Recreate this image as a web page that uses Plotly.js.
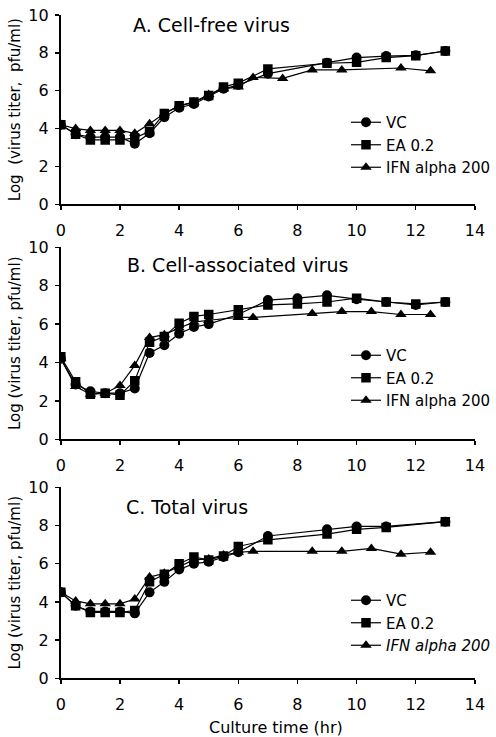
<!DOCTYPE html>
<html>
<head>
<meta charset="utf-8">
<script src="https://cdn.plot.ly/plotly-3.0.1.min.js"></script>
<style>html,body{margin:0;padding:0;background:#fff;}#chart{width:496px;height:737px;}</style>
</head>
<body>
<div id="chart"></div>
<script>
// ---- Data ----
const seriesNames = ["VC", "EA 0.2", "IFN alpha 200"];
const panelTitles = ["A. Cell-free virus", "B. Cell-associated virus", "C. Total virus"];
const yTitles = ["Log\u00a0 (virus titer,\u00a0 pfu/ml)", "Log (virus titer, pfu/ml)", "Log (virus titer, pfu/ml)"];
const xTitle = "Culture time (hr)";

// Panel A: cell-free virus
const xA_vc  = [0,0.5,1,1.5,2,2.5,3,3.5,4,4.5,5,5.5,6,7,9,10,11,12,13];
const yA_vc  = [4.2,3.7,3.55,3.55,3.55,3.2,3.75,4.6,5.1,5.3,5.7,6.1,6.3,6.9,7.48,7.75,7.83,7.87,8.1];
const xA_ea  = [0,0.5,1,1.5,2,2.5,3,3.5,4,4.5,5,5.5,6,7,9,10,11,12,13];
const yA_ea  = [4.2,3.7,3.4,3.4,3.4,3.5,3.85,4.8,5.2,5.4,5.75,6.2,6.4,7.15,7.45,7.5,7.75,7.85,8.1];
const xA_ifn = [0,0.5,1,1.5,2,2.5,3,3.5,4,4.5,5,5.5,6,6.5,7.5,8.5,9.5,11.5,12.5];
const yA_ifn = [4.2,4.0,3.9,3.9,3.9,3.75,4.25,4.8,5.2,5.4,5.8,6.1,6.2,6.7,6.65,7.1,7.1,7.2,7.05];

// Panel B: cell-associated virus
const xB_vc  = [0,0.5,1,1.5,2,2.5,3,3.5,4,4.5,5,6,7,8,9,10,11,12,13];
const yB_vc  = [4.2,2.85,2.5,2.4,2.4,2.65,4.5,4.9,5.5,5.85,6.0,6.5,7.25,7.35,7.5,7.3,7.15,7.0,7.15];
const xB_ea  = [0,0.5,1,1.5,2,2.5,3,3.5,4,4.5,5,6,7,8,9,10,11,12,13];
const yB_ea  = [4.3,3.0,2.35,2.4,2.3,3.05,5.05,5.35,6.05,6.4,6.5,6.75,7.0,7.05,7.15,7.35,7.15,7.05,7.15];
const xB_ifn = [0,0.5,1,1.5,2,2.5,3,3.5,4,4.5,5,6,6.5,8.5,9.5,10.5,11.5,12.5];
const yB_ifn = [4.2,2.75,2.35,2.4,2.8,3.85,5.3,5.45,5.8,6.1,6.2,6.35,6.35,6.55,6.65,6.65,6.5,6.5];

// Panel C: total virus
const xC_vc  = [0,0.5,1,1.5,2,2.5,3,3.5,4,4.5,5,5.5,6,7,9,10,11,13];
const yC_vc  = [4.5,3.8,3.5,3.5,3.5,3.4,4.5,5.05,5.7,6.0,6.1,6.35,6.6,7.45,7.8,7.95,7.95,8.2];
const xC_ea  = [0,0.5,1,1.5,2,2.5,3,3.5,4,4.5,5,5.5,6,7,9,10,11,13];
const yC_ea  = [4.5,3.8,3.45,3.45,3.45,3.55,5.05,5.45,6.0,6.35,6.2,6.4,6.9,7.25,7.55,7.8,7.9,8.2];
const xC_ifn = [0,0.5,1,1.5,2,2.5,3,3.5,4,4.5,5,5.5,6,6.5,8.5,9.5,10.5,11.5,12.5];
const yC_ifn = [4.5,4.05,3.9,3.9,3.9,4.15,5.3,5.5,5.85,6.2,6.25,6.45,6.6,6.65,6.65,6.65,6.8,6.5,6.6];

const xTickVals = [0,2,4,6,8,10,12,14];
const yTickVals = [0,2,4,6,8,10];

// ---- Build ----
const FONT = "DejaVu Sans, Arial, sans-serif";
const symbols = ["circle", "square", "triangle-up"];
const markerSizes = [10, 9.5, 10];
const panels = [
  {x:[xA_vc,xA_ea,xA_ifn], y:[yA_vc,yA_ea,yA_ifn]},
  {x:[xB_vc,xB_ea,xB_ifn], y:[yB_vc,yB_ea,yB_ifn]},
  {x:[xC_vc,xC_ea,xC_ifn], y:[yC_vc,yC_ea,yC_ifn]}
];
const legendIds = ["legend", "legend2", "legend3"];
const traces = [];
panels.forEach((p, pi) => {
  for (let s = 0; s < 3; s++) {
    let nm = seriesNames[s];
    if (pi === 2 && s === 2) nm = "<i>" + nm + "</i>";
    traces.push({
      type: "scatter", mode: "lines+markers",
      x: p.x[s], y: p.y[s], name: nm,
      xaxis: pi === 0 ? "x" : "x" + (pi + 1),
      yaxis: pi === 0 ? "y" : "y" + (pi + 1),
      legend: legendIds[pi],
      line: {color: "#000", width: 1.2},
      marker: {symbol: symbols[s], size: markerSizes[s], color: "#000", line: {width: 0}}
    });
  }
});

const W = 496, H = 737;
const xDom = [61.7 / W, 481.7 / W];
const yPix = [[15, 204.3], [247.3, 439.3], [487.3, 678.3]];
const legendTops = [106, 339, 584];

const layout = {
  width: W, height: H,
  margin: {l: 0, r: 0, t: 0, b: 0},
  paper_bgcolor: "#fff", plot_bgcolor: "#fff",
  font: {family: FONT, size: 16, color: "#000"},
  showlegend: true,
  annotations: [{
    text: xTitle, showarrow: false, xref: "paper", yref: "paper",
    x: 280 / W, y: 1 - 727 / H, xanchor: "center", yanchor: "middle",
    font: {family: FONT, size: 16, color: "#000"}
  }]
};
for (let i = 0; i < 3; i++) {
  const sfx = i === 0 ? "" : String(i + 1);
  const dom = [1 - yPix[i][1] / H, 1 - yPix[i][0] / H];
  layout["xaxis" + sfx] = {
    domain: xDom, anchor: "y" + sfx, range: [0, 14], tickvals: xTickVals,
    showline: true, linecolor: "#000", linewidth: 2, mirror: false,
    ticks: "outside", ticklen: 4, tickwidth: 1.5, tickcolor: "#000",
    showgrid: false, zeroline: false, fixedrange: true,
    tickfont: {family: FONT, size: 16, color: "#000"}, ticklabelstandoff: 6,
    title: {text: ""}
  };
  layout["yaxis" + sfx] = {
    domain: dom, anchor: "x" + sfx, range: [0, 10], tickvals: yTickVals,
    showline: true, linecolor: "#000", linewidth: 2, mirror: false,
    ticks: "outside", ticklen: 4, tickwidth: 1.5, tickcolor: "#000",
    showgrid: false, zeroline: false, fixedrange: true,
    tickfont: {family: FONT, size: 16, color: "#000"}, ticklabelstandoff: 3,
    title: {text: yTitles[i], font: {family: FONT, size: 15, color: "#000"}, standoff: 4}
  };
  layout[legendIds[i]] = {
    x: 351 / W, xanchor: "left", y: 1 - legendTops[i] / H, yanchor: "top",
    bgcolor: "rgba(0,0,0,0)", borderwidth: 0, tracegroupgap: 0,
    font: {family: FONT, size: 15, color: "#000"}
  };
  layout.annotations.push({
    text: panelTitles[i], showarrow: false,
    xref: "x" + sfx, yref: "y" + sfx,
    x: [2.38, 2.17, 2.13][i], y: [9.47, 9.08, 8.97][i],
    xanchor: "left", yanchor: "middle",
    font: {family: FONT, size: 19, color: "#000"}
  });
}

Plotly.newPlot("chart", traces, layout, {staticPlot: true, displayModeBar: false});
</script>
</body>
</html>
